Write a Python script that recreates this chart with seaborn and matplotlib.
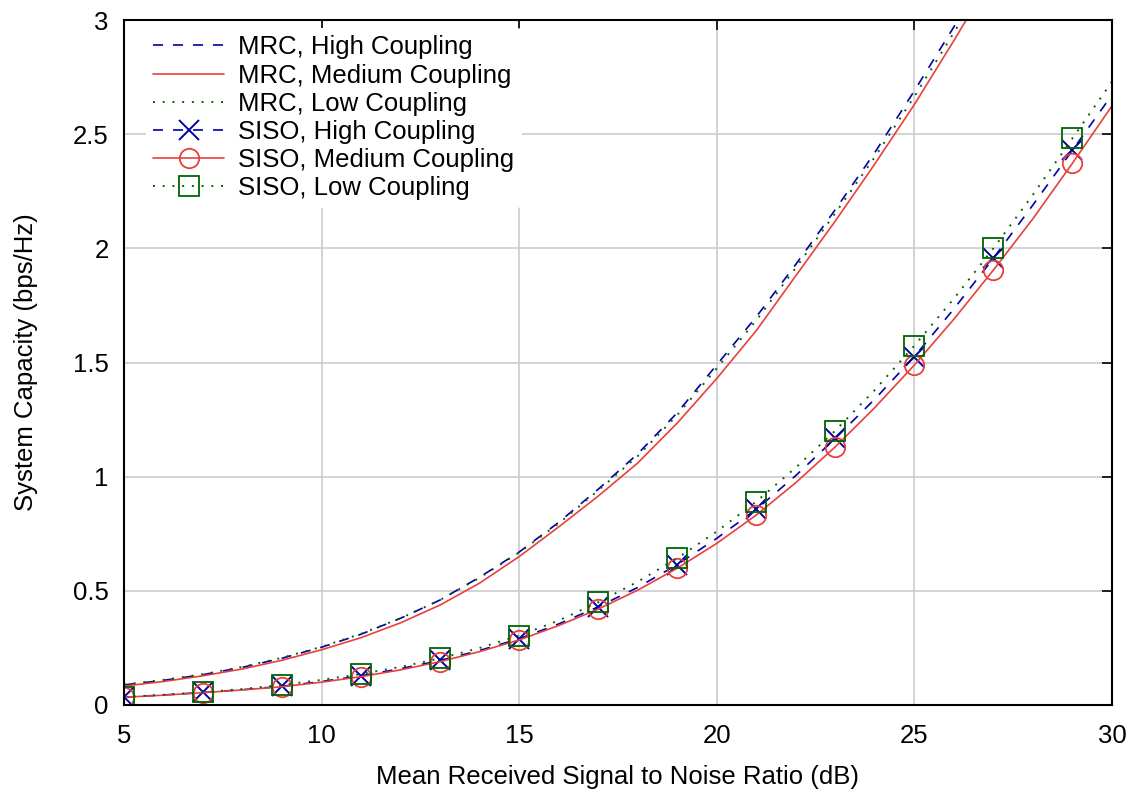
import numpy as np
import matplotlib
matplotlib.use('Agg')
import matplotlib.pyplot as plt
import seaborn as sns

# SNR axis (dB)
snr_mrc = [5, 6, 7, 8, 9, 10, 11, 12, 13, 14, 15, 16, 17, 18, 19, 20, 21, 22, 23, 24, 25, 26, 27]
snr_siso = [5, 6, 7, 8, 9, 10, 11, 12, 13, 14, 15, 16, 17, 18, 19, 20, 21, 22, 23, 24, 25, 26, 27, 28, 29, 30]

# MRC capacity (bps/Hz)
mrc_high = [0.088, 0.108, 0.133, 0.165, 0.205, 0.253, 0.31, 0.38, 0.46, 0.56, 0.67, 0.80, 0.945,
            1.10, 1.28, 1.49, 1.70, 1.93, 2.17, 2.42, 2.69, 2.97, 3.26]
mrc_medium = [0.083, 0.103, 0.128, 0.158, 0.196, 0.242, 0.295, 0.36, 0.438, 0.534, 0.65, 0.78, 0.915,
              1.06, 1.235, 1.43, 1.64, 1.88, 2.12, 2.37, 2.63, 2.91, 3.2]
mrc_low = [0.09, 0.11, 0.135, 0.167, 0.207, 0.255, 0.312, 0.38, 0.46, 0.558, 0.668, 0.795, 0.94,
           1.09, 1.27, 1.475, 1.685, 1.915, 2.155, 2.40, 2.665, 2.945, 3.23]

# SISO capacity (bps/Hz)
siso_high = [0.034, 0.044, 0.055, 0.067, 0.082, 0.103, 0.128, 0.159, 0.195, 0.239, 0.29, 0.355, 0.43,
             0.515, 0.615, 0.73, 0.857, 1.005, 1.168, 1.34, 1.526, 1.735, 1.957, 2.19, 2.43, 2.672]
siso_medium = [0.034, 0.043, 0.054, 0.066, 0.080, 0.100, 0.124, 0.154, 0.19, 0.234, 0.285, 0.348, 0.42,
               0.503, 0.599, 0.708, 0.832, 0.974, 1.131, 1.303, 1.489, 1.69, 1.905, 2.13, 2.373, 2.624]
siso_low = [0.035, 0.045, 0.056, 0.07, 0.088, 0.11, 0.136, 0.167, 0.204, 0.25, 0.304, 0.37, 0.45,
            0.54, 0.643, 0.76, 0.891, 1.04, 1.202, 1.38, 1.574, 1.78, 2.0, 2.235, 2.482, 2.73]

x_ticks = [5, 10, 15, 20, 25, 30]
y_ticks = [0, 0.5, 1, 1.5, 2, 2.5, 3]
y_tick_labels = ['0', '0.5', '1', '1.5', '2', '2.5', '3']

blue = '#0000a8'
red = '#e8403c'
green = '#006400'

sns.set_style('white')
plt.rcParams['font.family'] = ['Liberation Sans', 'DejaVu Sans']
plt.rcParams['text.color'] = 'black'
plt.rcParams['axes.labelcolor'] = 'black'

fs = 18.5

fig = plt.figure(figsize=(11.43, 7.95), dpi=100)
ax = fig.add_axes([124 / 1143, 1 - 705 / 795, (1112 - 124) / 1143, (705 - 20) / 795])

dash = (0, (6, 6))
dot = (0, (1, 4))

sns.lineplot(x=snr_mrc, y=mrc_high, ax=ax, color=blue, linestyle=dash, linewidth=1.2,
             label='MRC, High Coupling')
sns.lineplot(x=snr_mrc, y=mrc_medium, ax=ax, color=red, linestyle='-', linewidth=1.2,
             label='MRC, Medium Coupling')
sns.lineplot(x=snr_mrc, y=mrc_low, ax=ax, color=green, linestyle=dot, linewidth=1.4,
             label='MRC, Low Coupling')
sns.lineplot(x=snr_siso, y=siso_high, ax=ax, color=blue, linestyle=dash, linewidth=1.2,
             marker='x', markevery=2, markersize=14, markeredgewidth=1.4, markeredgecolor=blue,
             label='SISO, High Coupling')
sns.lineplot(x=snr_siso, y=siso_medium, ax=ax, color=red, linestyle='-', linewidth=1.2,
             marker='o', markevery=2, markersize=14, markeredgewidth=1.3,
             markerfacecolor='none', markeredgecolor=red,
             label='SISO, Medium Coupling')
sns.lineplot(x=snr_siso, y=siso_low, ax=ax, color=green, linestyle=dot, linewidth=1.4,
             marker='s', markevery=2, markersize=14, markeredgewidth=1.3,
             markerfacecolor='none', markeredgecolor=green,
             label='SISO, Low Coupling')

ax.set_xlim(5, 30)
ax.set_ylim(0, 3)
ax.set_xticks(x_ticks)
ax.set_yticks(y_ticks)
ax.set_yticklabels(y_tick_labels)
ax.grid(True, color='#cccccc', linewidth=1.2)
ax.set_axisbelow(True)
ax.tick_params(direction='in', length=7, width=1.2, top=True, right=True,
               labelsize=fs, colors='black')
ax.tick_params(axis='x', pad=14)
ax.tick_params(axis='y', pad=11)
for s in ax.spines.values():
    s.set_visible(True)
    s.set_color('black')
    s.set_linewidth(1.5)

ax.set_xlabel('Mean Received Signal to Noise Ratio (dB)', fontsize=fs, labelpad=12)
ax.set_ylabel('System Capacity (bps/Hz)', fontsize=fs, labelpad=25)

leg = ax.legend(loc='upper left', bbox_to_anchor=(0.014, 1.0), fontsize=fs, frameon=True,
                framealpha=1, edgecolor='white', handlelength=2.75, labelspacing=0.16,
                borderaxespad=0.3, handletextpad=0.55, borderpad=0.3)
leg.get_frame().set_linewidth(0)

fig.savefig('out.png', dpi=100)
